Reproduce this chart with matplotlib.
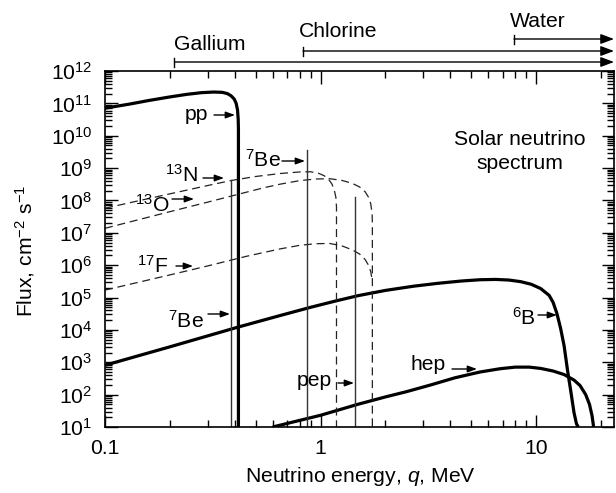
import matplotlib
matplotlib.use("Agg")
import matplotlib.pyplot as plt
from matplotlib.ticker import LogLocator, NullFormatter
from matplotlib.transforms import blended_transform_factory
from matplotlib.lines import Line2D

plt.rcParams['font.family'] = ['Liberation Sans', 'DejaVu Sans']
plt.rcParams['mathtext.fontset'] = 'custom'
plt.rcParams['mathtext.rm'] = 'Liberation Sans'
plt.rcParams['mathtext.it'] = 'Liberation Sans:italic'
plt.rcParams['mathtext.bf'] = 'Liberation Sans:bold'
plt.rcParams['mathtext.sf'] = 'Liberation Sans'

FS = 15.2

# ---------------- data (energy in MeV, flux) ----------------
pp_E = [0.1, 0.13, 0.16, 0.2, 0.24, 0.28, 0.32, 0.35, 0.37, 0.385, 0.398,
        0.406, 0.412, 0.415, 0.416, 0.416]
pp_F = [7.1e10, 9.5e10, 1.23e11, 1.58e11, 1.9e11, 2.14e11, 2.24e11, 2.19e11, 2.0e11,
        1.7e11, 1.35e11, 1.0e11, 6.3e10, 3.2e10, 1.6e10, 10]

n13_E = [0.1, 0.2, 0.3, 0.39, 0.5, 0.65, 0.8, 0.9, 0.98, 1.04, 1.09, 1.13, 1.16,
         1.178, 1.186, 1.186]
n13_F = [5.75e7, 1.6e8, 2.9e8, 4.2e8, 5.5e8, 6.8e8, 7.6e8, 7.7e8, 6.9e8, 5.8e8,
         4.5e8, 3.2e8, 2.0e8, 1.26e8, 6.3e7, 10]

o15_E = [0.1, 0.2, 0.3, 0.45, 0.55, 0.652, 0.8, 0.95, 1.1, 1.25, 1.4, 1.52, 1.61,
         1.67, 1.71, 1.735, 1.74, 1.74]
o15_F = [1.38e7, 4.5e7, 8.9e7, 1.78e8, 2.5e8, 3.2e8, 4.1e8, 4.6e8, 4.7e8, 4.2e8,
         3.4e8, 2.6e8, 1.86e8, 1.26e8, 7.9e7, 4.0e7, 2.0e7, 10]

f17_E = [0.1, 0.2, 0.3, 0.45, 0.55, 0.652, 0.8, 0.95, 1.1, 1.25, 1.4, 1.52, 1.61,
         1.67, 1.71, 1.735]
f17_F = [1.7e5, 5.0e5, 9.5e5, 1.86e6, 2.5e6, 3.2e6, 4.1e6, 4.6e6, 4.7e6, 4.0e6,
         3.0e6, 2.2e6, 1.5e6, 1.0e6, 6.3e5, 3.5e5]

b8_E = [0.1, 0.2, 0.416, 0.652, 0.9, 1.2, 1.5, 2.0, 2.7, 3.5, 4.5, 5.5, 6.5, 7.5,
        8.5, 9.5, 10.5, 11.5, 12.0, 12.5, 13.0, 13.5, 14.0, 14.5, 15.0, 15.4, 15.7]
b8_F = [8.1e2, 3.0e3, 1.23e4, 2.8e4, 5.0e4, 8.1e4, 1.15e5, 1.66e5, 2.24e5, 2.75e5,
        3.24e5, 3.55e5, 3.63e5, 3.47e5, 3.09e5, 2.57e5, 1.9e5, 1.17e5, 7.1e4,
        3.2e4, 1.12e4, 3.2e3, 5.6e2, 1.26e2, 28, 12.6, 10]

hep_E = [0.6, 0.8, 1.0, 1.486, 2.0, 2.5, 3.25, 4.2, 5.5, 6.8, 8.0, 9.3, 10.5, 12.0,
         13.5, 15.0, 16.0, 17.0, 17.7, 18.2, 18.5]
hep_F = [10, 16, 23, 50, 85, 123, 200, 331, 501, 631, 708, 708, 646, 537, 417,
         282, 191, 100, 50, 22, 10]

be7_E = [0.384, 0.862]
be7_F = [4.2e8, 3.5e9]
pep_E = [1.442]
pep_F = [1.3e8]

detectors = ['Gallium', 'Chlorine', 'Water']
det_threshold = [0.21, 0.83, 7.9]

# ---------------- figure ----------------
W, H = 616, 493
fig = plt.figure(figsize=(W / 100, H / 100), dpi=100)
ax = fig.add_axes([105 / W, (H - 427) / H, 509 / W, 356 / H])
ax.set_xscale('log')
ax.set_yscale('log')
ax.set_xlim(0.1, 23)
ax.set_ylim(10, 1e12)

thick = dict(color='black', lw=2.3, solid_capstyle='butt', solid_joinstyle='round')
dash = dict(color='#222222', lw=0.9, dashes=(6.4, 3.8))
thin = dict(color='#333333', lw=1.0)

ax.plot(pp_E, pp_F, **thick)
ax.plot(b8_E, b8_F, **thick)
ax.plot(hep_E, hep_F, **thick)
ax.plot(n13_E, n13_F, **dash)
ax.plot(o15_E, o15_F, **dash)
ax.plot(f17_E, f17_F, **dash)
for e, f in zip(be7_E + pep_E, be7_F + pep_F):
    ax.plot([e, e], [10, f], **thin)

# ticks
ax.yaxis.set_major_locator(LogLocator(base=10, numticks=30))
ax.yaxis.set_minor_locator(LogLocator(base=10, subs=[2, 3, 4, 5, 6, 7, 8, 9], numticks=30))
ax.yaxis.set_minor_formatter(NullFormatter())
ax.set_xticks([0.1, 1, 10], labels=['0.1', '1', '10'])
ax.xaxis.set_minor_locator(LogLocator(base=10, subs=[2, 3, 4, 5, 6, 7, 8, 9], numticks=30))
ax.xaxis.set_minor_formatter(NullFormatter())
ax.tick_params(which='both', direction='in', top=True, right=True, width=1.0)
ax.tick_params(which='major', length=9, labelsize=FS)
ax.tick_params(which='minor', length=5)
ax.tick_params(axis='x', which='major', pad=9)
ax.tick_params(axis='y', which='major', pad=9)
for s in ax.spines.values():
    s.set_linewidth(1.2)


def P(x, y):
    return (x / W, 1 - y / H)


# axis labels
fig.text(*P(25, 251), 'Flux, cm$^{-2}$ s$^{-1}$', rotation=90, ha='center', va='center', fontsize=FS)
fig.text(*P(360, 476), 'Neutrino energy, $q$, MeV', ha='center', va='center', fontsize=FS)

# curve labels (left x, baseline y) and arrows (tail -> tip)
labels = [
    ('pp', 185, 120, (214, 115), (235, 115)),
    ('$^{7}$Be', 245, 167, (282, 161), (305, 161)),
    ('$^{13}$N', 165, 182, (203, 178), (224, 178)),
    ('$^{13}$O', 135, 212, (172, 199), (194, 199)),
    ('$^{17}$F', 137, 273, (176, 266), (193, 266)),
    ('$^{7}$Be', 168, 328, (208, 314), (230, 314)),
    ('pep', 297, 386, (338, 383), (354, 383)),
    ('hep', 410, 370, (452, 369), (477, 369)),
    ('$^{6}$B', 512, 325, (538, 315), (557, 315)),
]
for txt, lx, by, tail, tip in labels:
    fig.text(*P(lx, by), txt, ha='left', va='baseline', fontsize=FS)
    ax.annotate('', xy=P(*tip), xytext=P(*tail), xycoords='figure fraction',
                textcoords='figure fraction',
                arrowprops=dict(arrowstyle='-|>,head_length=0.55,head_width=0.2',
                                color='black', lw=1.0, shrinkA=0, shrinkB=0,
                                mutation_scale=10))

fig.text(*P(520, 145), 'Solar neutrino', ha='center', va='baseline', fontsize=FS)
fig.text(*P(520, 169), 'spectrum', ha='center', va='baseline', fontsize=FS)

# detector thresholds (arrows above the plot)
tr = blended_transform_factory(ax.transData, fig.transFigure)
det_y = [62, 51, 39]
det_text = [(174, 50), (299, 37), (510, 27)]
for name, thr, yy, (tx, ty) in zip(detectors, det_threshold, det_y, det_text):
    yf = 1 - yy / H
    ax.annotate('', xy=(23, yf), xytext=(thr, yf), xycoords=tr, textcoords=tr,
                annotation_clip=False,
                arrowprops=dict(arrowstyle='-|>,head_length=0.8,head_width=0.3',
                                color='black', lw=1.0, shrinkA=0, shrinkB=0,
                                mutation_scale=10))
    fig.add_artist(Line2D([thr, thr], [1 - (yy - 4.5) / H, 1 - (yy + 4.5) / H],
                          transform=tr, color='black', lw=1.0))
    fig.text(*P(tx, ty), name, ha='left', va='baseline', fontsize=FS)

fig.savefig('out.png', dpi=100)
